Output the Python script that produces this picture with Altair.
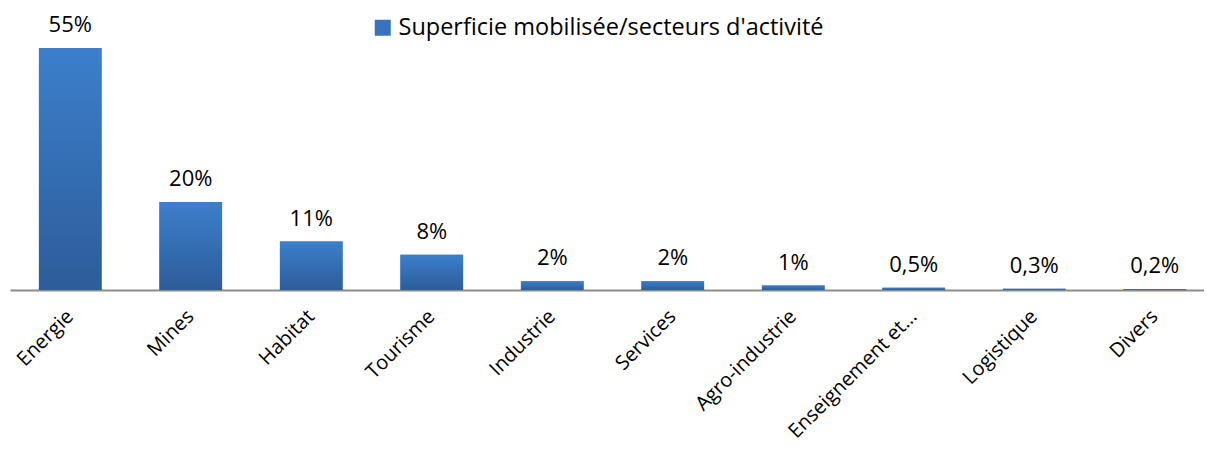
import altair as alt
import pandas as pd

FONT = "'Open Sans', sans-serif"

categories = ["Energie", "Mines", "Habitat", "Tourisme", "Industrie", "Services",
              "Agro-industrie", "Enseignement et…", "Logistique", "Divers"]
values = [55, 20, 11, 8, 2, 2, 1, 0.5, 0.3, 0.2]
labels = ["55%", "20%", "11%", "8%", "2%", "2%", "1%", "0,5%", "0,3%", "0,2%"]
series_name = "Superficie mobilisée/secteurs d'activité"

df = pd.DataFrame({"cat": categories, "val": values, "lab": labels,
                   "serie": [series_name] * len(categories)})

x = alt.X("cat:N", sort=categories,
          scale=alt.Scale(paddingInner=0.48, paddingOuter=0.24),
          axis=alt.Axis(title=None, labelAngle=315, labelFontSize=20, labelFont=FONT,
                        labelColor="black", ticks=False, domainColor="#8c8c8c",
                        domainWidth=2, labelPadding=23, labelBaseline="middle",
                        labelAlign="right", grid=False, labelLimit=400))
y = alt.Y("val:Q", scale=alt.Scale(domain=[0, 60], nice=False), axis=None)

base = alt.Chart(df)

legend_layer = base.mark_bar().encode(
    x=x, y=y,
    color=alt.Color("serie:N", scale=alt.Scale(range=["#3a73bd"]),
                    legend=alt.Legend(title=None, orient="none", legendX=361, legendY=-10,
                                      symbolType="square", symbolSize=256,
                                      symbolStrokeWidth=0, labelFontSize=23.5,
                                      labelFont=FONT, labelColor="black",
                                      labelLimit=800, labelOffset=4))
)

grad = alt.Gradient(gradient="linear",
                    stops=[alt.GradientStop(color="#3c7fcc", offset=0),
                           alt.GradientStop(color="#2d5c99", offset=1)],
                    x1=0, x2=0, y1=0, y2=1)

bars = base.mark_bar(color=grad).encode(x=x, y=y)

text = base.mark_text(dy=-16, fontSize=22, font=FONT, color="black",
                      baseline="alphabetic").encode(x=x, y=y, text="lab:N")

chart = alt.layer(legend_layer, bars, text).properties(
    width=1205, height=264, autosize="none",
    padding={"left": 2, "top": 18, "right": -11, "bottom": 152}
).configure_view(strokeWidth=0)

chart.save("out.html", embed_options={"renderer": "svg", "actions": False})
